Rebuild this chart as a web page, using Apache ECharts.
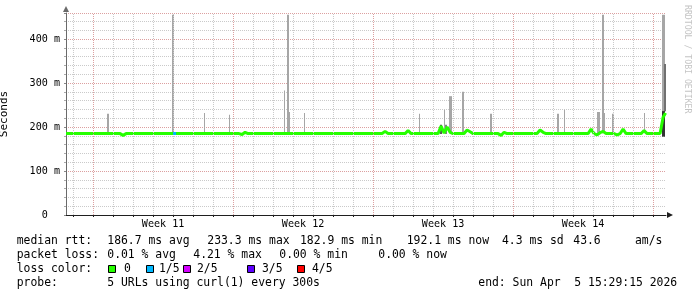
<!DOCTYPE html>
<html><head><meta charset="utf-8">
<script src="https://cdn.jsdelivr.net/npm/echarts@6/dist/echarts.min.js"></script>
<style>html,body{margin:0;padding:0;background:#fff;}#c{width:697px;height:297px;}</style>
</head><body><div id="c"></div>
<script>
// x values: hours relative to Sun Mar 8 00:00 (graph end: Sun Apr 5 15:29:15 2026)
const xMin = -32.5, xMax = 687.5;
const yMax = 459;
const weekLabels = ['Week 11', 'Week 12', 'Week 13', 'Week 14'];
const weekCenterHours = [84, 252, 420, 588];
const weekStartHours = [0, 168, 336, 504, 672];

// median rtt (ms), loss 0
const medianHours = [-32.5, 32.4, 36, 39.6, 175.2, 178.8, 182.4, 186, 346.8, 350.4, 354, 374.4, 378, 381.6,
  414, 417.6, 421.2, 424.8, 428.4, 432, 445.2, 448.8, 452.4, 456, 486, 489.6, 493.2, 496.8,
  532.8, 536.4, 540, 543.6, 594, 597.6, 601.2, 604.8, 608.4, 612, 615.6, 625.2, 628.8, 632.4, 636, 639.6,
  657.6, 661.2, 664.8, 680.4, 684, 687];
const medianMs = [185, 185, 181, 185, 185, 183, 188, 185, 185, 190, 185, 185, 192, 185,
  185, 202, 186, 200, 188, 185, 185, 193, 189, 185, 185, 181, 188, 185,
  185, 193, 188, 185, 185, 195, 185, 182, 187, 190, 185, 185, 182, 185, 195, 185,
  185, 192, 185, 185, 222, 232];
// median segment with 1/5 loss
const loss1Hours = [96, 99.6];
const loss1Ms = [185, 185];

// smoke (ping spread) spikes
const smokeStart = [16.8, 94.8, 133.2, 163.2, 229.2, 232.8, 235.2, 253.2, 391.2, 416.4, 421.2, 422.4, 427.2, 442.8, 476.4,
  556.8, 565.2, 604.8, 610.8, 613.2, 622.8, 661.2, 682.8, 684.6, 682.8];
const smokeEnd = [19.2, 97.2, 134.4, 164.4, 230.4, 235.2, 236.4, 254.4, 392.4, 418.8, 422.4, 424.8, 430.8, 445.2, 478.8,
  559.2, 566.4, 608.4, 613.2, 614.4, 625.2, 662.4, 686.4, 686.4, 686.4];
const smokeLow = [186, 186, 186, 186, 186, 186, 186, 186, 186, 184, 186, 184, 186, 186, 186,
  186, 186, 186, 186, 186, 186, 186, 186, 236, 178];
const smokeHigh = [230, 455, 232, 228, 283, 455, 234, 232, 230, 205, 239, 205, 270, 280, 230,
  230, 239, 234, 455, 232, 230, 232, 455, 343, 236];
const smokeShade = ['#a6a6a6', '#a6a6a6', '#a6a6a6', '#a6a6a6', '#a6a6a6', '#a6a6a6', '#a6a6a6', '#a6a6a6', '#a6a6a6',
  '#555555', '#a6a6a6', '#808080', '#a6a6a6', '#a6a6a6', '#a6a6a6', '#a6a6a6', '#a6a6a6', '#a6a6a6', '#a6a6a6',
  '#a6a6a6', '#a6a6a6', '#a6a6a6', '#a6a6a6', '#707070', '#333333'];

const lossLabels = ['0', '1/5', '2/5', '3/5', '4/5'];
const lossColors = ['#26ff00', '#00b8ff', '#d400ff', '#5e00ff', '#ff0000'];

const legendLine1 = ['median rtt:', '186.7 ms avg', '233.3 ms max', '182.9 ms min', '192.1 ms now', '4.3 ms sd', '43.6', 'am/s'];
const legendLine2 = ['packet loss:', '0.01 % avg', '4.21 % max', '0.00 % min', '0.00 % now'];
const probeText = ['probe:', '5 URLs using curl(1) every 300s', 'end: Sun Apr  5 15:29:15 2026'];

// layout
const line1X = [16.7, 107.3, 207.3, 300, 406.7, 502, 573.3, 635];
const line2X = [16.7, 107.3, 193.3, 279.3, 378.3];
const probeX = [16.7, 107.3, 478.3];
const swatchX = [108, 146, 183, 247, 297];
const lossLabelX = [124, 159, 197, 262, 312];
const rowY = [241, 255.5, 269, 283];

const MONO = '"DejaVu Sans Mono", monospace';
const LF = 11.4;

const dayLines = [], weekLines = [];
for (let h = -24; h <= 686; h += 24) {
  if (weekStartHours.indexOf(h) >= 0) weekLines.push({xAxis: h}); else dayLines.push({xAxis: h});
}

const graphic = [];
function addTexts(arr, xs, y) {
  arr.forEach((t, i) => graphic.push({type: 'text', x: xs[i], y: y, style: {text: t, font: LF + 'px ' + MONO, fill: '#000', textVerticalAlign: 'middle'}}));
}
addTexts(legendLine1, line1X, rowY[0]);
addTexts(legendLine2, line2X, rowY[1]);
addTexts(['loss color:'], [16.7], rowY[2]);
lossLabels.forEach((t, i) => {
  graphic.push({type: 'rect', shape: {x: swatchX[i] + 0.5, y: rowY[2] - 3.5, width: 7, height: 7}, style: {fill: lossColors[i], stroke: '#000', lineWidth: 1}});
  graphic.push({type: 'text', x: lossLabelX[i], y: rowY[2], style: {text: t, font: LF + 'px ' + MONO, fill: '#000', textVerticalAlign: 'middle'}});
});
addTexts(probeText, probeX, rowY[3]);
graphic.push({type: 'text', x: 687, y: 5, rotation: -Math.PI / 2,
  style: {text: 'RRDTOOL / TOBI OETIKER', font: '8.2px ' + MONO, fill: '#c4c4c4', textAlign: 'left', textVerticalAlign: 'middle'}});

const chart = echarts.init(document.getElementById('c'), null, {renderer: 'canvas'});
chart.setOption({
  animation: false,
  backgroundColor: '#ffffff',
  grid: {left: 66, right: 31, top: 13, bottom: 82, containLabel: false, outerBoundsMode: 'none'},
  xAxis: {
    type: 'value', min: xMin, max: xMax,
    axisLine: {show: true, onZero: false, lineStyle: {color: '#1f1f1f', width: 1}, symbol: ['none', 'triangle'], symbolSize: [6, 6], symbolOffset: [0, 4]},
    axisTick: {show: true, length: 2, customValues: dayLines.concat(weekLines).map(d => d.xAxis), lineStyle: {color: '#1f1f1f'}},
    axisLabel: {customValues: weekCenterHours, formatter: v => weekLabels[weekCenterHours.indexOf(v)] || '',
      fontFamily: MONO, fontSize: 10.1, color: '#000', margin: 4},
    splitLine: {show: false}
  },
  yAxis: {
    type: 'value', min: 0, max: yMax, interval: 100,
    name: 'Seconds', nameLocation: 'middle', nameGap: 56, nameRotate: 90,
    nameTextStyle: {fontFamily: MONO, fontSize: 11, color: '#000'},
    axisLine: {show: true, onZero: false, lineStyle: {color: '#6a6a6a', width: 1}, symbol: ['none', 'triangle'], symbolSize: [6, 6], symbolOffset: [0, 4]},
    axisTick: {show: true, length: 2, lineStyle: {color: '#888'}},
    minorTick: {show: true, splitNumber: 5, length: 2, lineStyle: {color: '#aaa'}},
    axisLabel: {formatter: v => v === 0 ? '0  ' : v + ' m', fontFamily: MONO, fontSize: 10.1, color: '#000', margin: 6, showMaxLabel: false},
    splitLine: {show: true, lineStyle: {color: '#dca0a0', type: [1, 1], width: 1}},
    minorSplitLine: {show: true, lineStyle: {color: '#cacaca', type: [1, 1], width: 1}}
  },
  series: [
    {
      type: 'line', data: [], silent: true, z: 1,
      markLine: {silent: true, symbol: ['none', 'none'], label: {show: false}, animation: false,
        lineStyle: {color: '#cacaca', type: [1, 1], width: 1}, data: dayLines}
    },
    {
      type: 'line', data: [], silent: true, z: 1,
      markLine: {silent: true, symbol: ['none', 'none'], label: {show: false}, animation: false,
        lineStyle: {color: '#dca0a0', type: [1, 1], width: 1}, data: weekLines}
    },
    {
      type: 'custom', z: 3, silent: true,
      encode: {x: [0, 1], y: [2, 3]},
      data: smokeStart.map((s, i) => ({value: [s, smokeEnd[i], smokeLow[i], smokeHigh[i]], itemStyle: {color: smokeShade[i]}})),
      renderItem: function (params, api) {
        const p0 = api.coord([api.value(0), api.value(3)]);
        const p1 = api.coord([api.value(1), api.value(2)]);
        return {type: 'rect', shape: {x: Math.round(p0[0]), y: p0[1], width: Math.max(1, Math.round(p1[0] - p0[0])), height: p1[1] - p0[1]},
          style: {fill: api.visual('color')}};
      }
    },
    {
      type: 'line', z: 4, silent: true, showSymbol: false, symbol: 'none',
      data: medianHours.map((h, i) => [h, medianMs[i]]),
      lineStyle: {color: lossColors[0], width: 3}
    },
    {
      type: 'line', z: 5, silent: true, showSymbol: false, symbol: 'none',
      data: loss1Hours.map((h, i) => [h, loss1Ms[i]]),
      lineStyle: {color: lossColors[1], width: 3}
    }
  ],
  graphic: graphic
});
</script></body></html>
